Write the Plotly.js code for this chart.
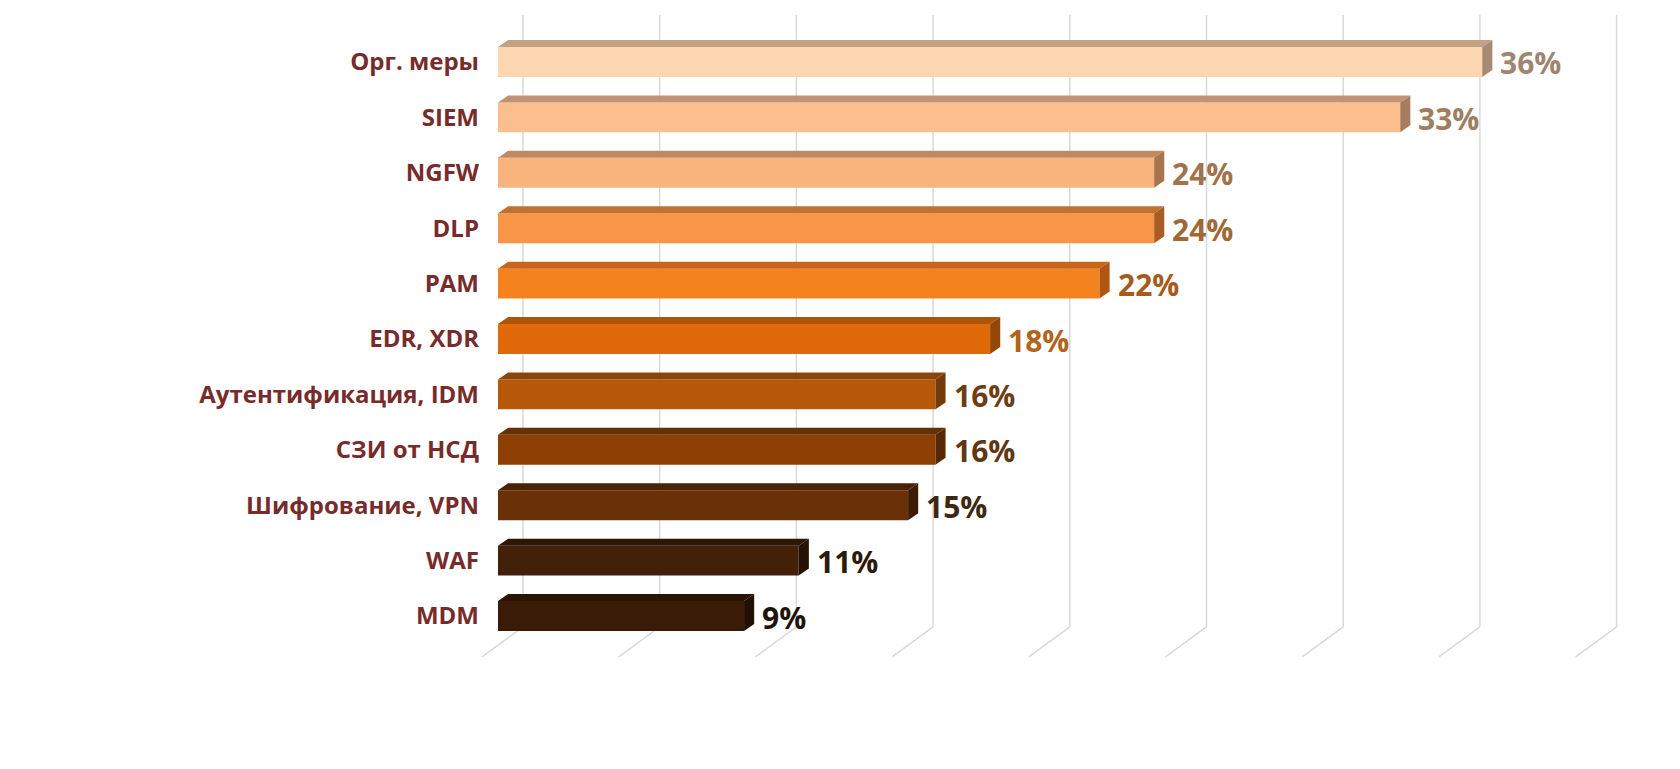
<!DOCTYPE html>
<html>
<head>
<meta charset="utf-8">
<script src="https://cdn.plot.ly/plotly-3.0.1.min.js"></script>
<style>
    html, body { margin: 0; padding: 0; background: #ffffff; }
    #chart { width: 1680px; height: 769px; }
</style>
</head>
<body>
<div id="chart"></div>
<script>
// categories top to bottom, share of answers in %
const categories = ['Орг. меры', 'SIEM', 'NGFW', 'DLP', 'PAM', 'EDR, XDR',
    'Аутентификация, IDM', 'СЗИ от НСД', 'Шифрование, VPN', 'WAF', 'MDM']
const values = [36, 33, 24, 24, 22, 18, 16, 16, 15, 11, 9]
const gridValues = [0, 5, 10, 15, 20, 25, 30, 35, 40]

const frontColors = ['#fcd6b1', '#fabe8f', '#f9b47e', '#f79646', '#f4821f', '#e06a0a',
    '#b7580b', '#8d3f04', '#6a3007', '#432109', '#391b08']
const topColors = ['#c4a184', '#c39272', '#c08a62', '#c0702f', '#c8661a', '#ad550a',
    '#8c4508', '#6a3005', '#4a2205', '#2f1605', '#2b1404']
const sideColors = ['#a88a70', '#a87c5e', '#a8754f', '#a85d24', '#b05512', '#934708',
    '#753a07', '#582804', '#3c1c04', '#261204', '#221004']
const labelColors = ['#9e8571', '#9e7e63', '#a0734d', '#9e6837', '#a65a1c', '#b3641b',
    '#6c3e14', '#5e3812', '#3e2810', '#2c1a0a', '#201408']

const barHalf = 0.27      // half of the bar thickness, in category units
const depthX = 0.37       // 3d depth of a bar, in % units
const depthY = 0.126      // 3d depth of a bar, in category units
const wallShift = 0.914   // back wall gridlines sit behind the bars
const floorDepth = 1.5

const indices = categories.map((c, i) => i)

const traces = []

traces.push({
    type: 'bar',
    orientation: 'h',
    x: values,
    y: indices,
    width: barHalf * 2,
    marker: {color: frontColors, line: {width: 0}},
    hoverinfo: 'none',
    showlegend: false
})

// top and side faces of each bar
values.forEach((v, i) => {
    const yTop = i - barHalf
    const yBottom = i + barHalf
    traces.push({
        type: 'scatter',
        mode: 'lines',
        x: [0, v, v + depthX, depthX, 0],
        y: [yTop, yTop, yTop - depthY, yTop - depthY, yTop],
        fill: 'toself',
        fillcolor: topColors[i],
        line: {width: 0},
        hoverinfo: 'none',
        showlegend: false
    })
    traces.push({
        type: 'scatter',
        mode: 'lines',
        x: [v, v + depthX, v + depthX, v, v],
        y: [yTop, yTop - depthY, yBottom - depthY, yBottom, yTop],
        fill: 'toself',
        fillcolor: sideColors[i],
        line: {width: 0},
        hoverinfo: 'none',
        showlegend: false
    })
})

const annotations = values.map((v, i) => ({
    x: v + depthX,
    y: i,
    xref: 'x',
    yref: 'y',
    text: v + '%',
    showarrow: false,
    xanchor: 'left',
    yanchor: 'middle',
    xshift: 6,
    yshift: -1,
    font: {family: 'Open Sans', size: 30, color: labelColors[i], weight: 'bold'}
}))

// back wall gridlines and the floor lines in front of them
const wallBottom = 0.0512
const floorFront = 0.0047
const shapes = []
for (let g of gridValues) {
    shapes.push({
        type: 'line', layer: 'below',
        xref: 'x', yref: 'paper',
        x0: g + wallShift, x1: g + wallShift, y0: wallBottom, y1: 1,
        line: {color: '#d9d9d9', width: 1.5}
    })
    shapes.push({
        type: 'line', layer: 'below',
        xref: 'x', yref: 'paper',
        x0: g + wallShift, x1: g + wallShift - floorDepth, y0: wallBottom, y1: floorFront,
        line: {color: '#d9d9d9', width: 1.5}
    })
}

const layout = {
    width: 1680,
    height: 769,
    margin: {l: 480, r: 40, t: 15, b: 109},
    paper_bgcolor: '#ffffff',
    plot_bgcolor: '#ffffff',
    showlegend: false,
    xaxis: {
        range: [-0.658, 41.77],
        showgrid: false,
        zeroline: false,
        showticklabels: false,
        showline: false,
        fixedrange: true
    },
    yaxis: {
        range: [10.794, -0.848],
        tickvals: indices,
        ticktext: categories,
        showgrid: false,
        zeroline: false,
        showline: false,
        ticks: '',
        tickfont: {family: 'Open Sans', size: 24, color: '#772b2b', weight: 'bold'},
        fixedrange: true
    },
    annotations: annotations,
    shapes: shapes
}

Plotly.newPlot('chart', traces, layout, {displayModeBar: false, staticPlot: true})
</script>
</body>
</html>
